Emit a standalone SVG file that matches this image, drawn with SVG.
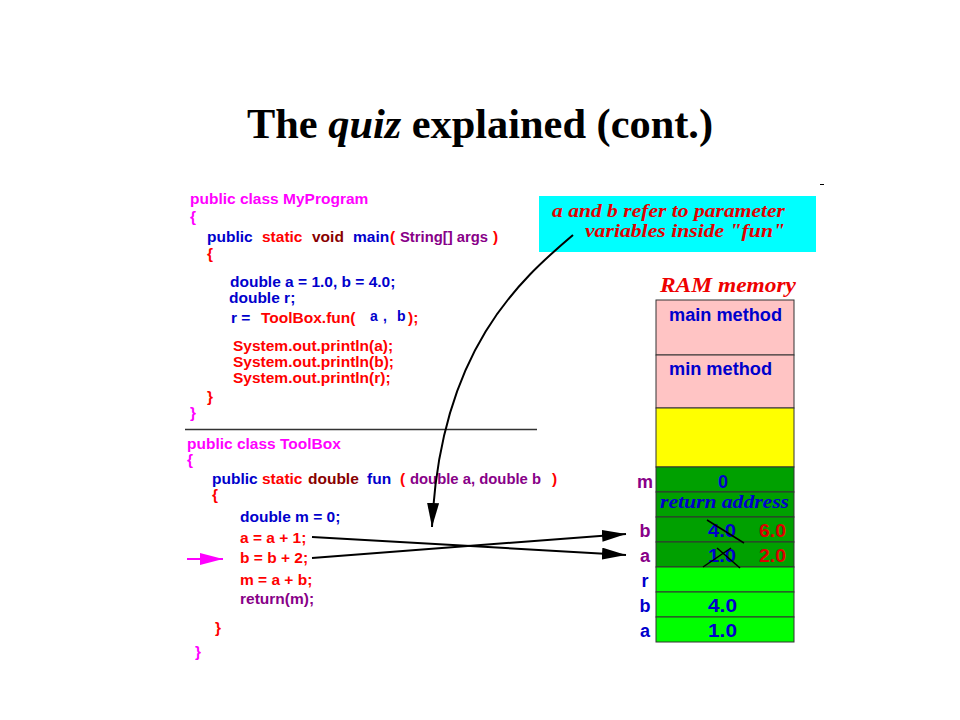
<svg xmlns="http://www.w3.org/2000/svg" width="960" height="720" viewBox="0 0 960 720">
<style>
.code{font-family:"Liberation Sans",Arial,sans-serif;font-weight:bold;font-size:15.5px}
.mg{fill:#ff00ff}.bl{fill:#0000cc}.rd{fill:#ff0000}.mr{fill:#880000}.pu{fill:#880088}
.mem{font-family:"Liberation Sans",Arial,sans-serif;font-weight:bold;font-size:18px}
.serif{font-family:"Liberation Serif","Times New Roman",serif;font-weight:bold;font-style:italic}
.cell{stroke:#333;stroke-width:1}
.conn{fill:none;stroke:#000;stroke-width:2}
</style>
<defs>
<marker id="ah" markerUnits="userSpaceOnUse" markerWidth="24" markerHeight="12" refX="24" refY="6" orient="auto"><path d="M0,0 L24,6 L0,12 z" fill="#000"/></marker>
<marker id="ahm" markerUnits="userSpaceOnUse" markerWidth="23" markerHeight="12" refX="23" refY="6" orient="auto"><path d="M0,0 L23,6 L0,12 z" fill="#ff00ff"/></marker>
</defs>
<rect width="960" height="720" fill="#fff"/>

<g id="title">
<text x="247" y="138" font-family="'Liberation Serif','Times New Roman',serif" font-weight="bold" font-size="42" textLength="466" lengthAdjust="spacingAndGlyphs">The <tspan font-style="italic">quiz</tspan> explained (cont.)</text>
</g>

<g id="myprogram" class="code">
<text x="190" y="204" class="mg">public class MyProgram</text>
<text x="190" y="222" class="mg">{</text>
<text y="242"><tspan x="207" class="bl">public</tspan><tspan x="262" class="rd">static</tspan><tspan x="312" class="mr">void</tspan><tspan x="353" class="bl">main</tspan><tspan x="390" class="rd">(</tspan></text>
<text x="400" y="242" class="pu" textLength="88" lengthAdjust="spacingAndGlyphs">String[] args</text>
<text x="493" y="242" class="rd">)</text>
<text x="207" y="259" class="rd">{</text>
<text x="230" y="287" class="bl">double a = 1.0, b = 4.0;</text>
<text x="229" y="303" class="bl">double r;</text>
<text y="323"><tspan x="231" class="bl">r =</tspan><tspan x="261" class="rd">ToolBox.fun(</tspan></text>
<text y="321" font-size="14"><tspan x="370" class="bl">a</tspan><tspan x="383" class="bl">,</tspan><tspan x="397" class="bl">b</tspan></text>
<text x="408" y="323" class="rd">);</text>
<text x="233" y="351" class="rd">System.out.println(a);</text>
<text x="233" y="367" class="rd">System.out.println(b);</text>
<text x="233" y="383" class="rd">System.out.println(r);</text>
<text x="207" y="402" class="rd">}</text>
<text x="190" y="418" class="mg">}</text>
</g>

<g id="separator">
<line x1="185" y1="429.5" x2="537" y2="429.5" stroke="#333" stroke-width="1.5"/>
</g>

<g id="toolbox" class="code">
<text x="187" y="449" class="mg">public class ToolBox</text>
<text x="187" y="465" class="mg">{</text>
<text y="484"><tspan x="212" class="bl">public</tspan><tspan x="262" class="rd">static</tspan><tspan x="308" class="mr">double</tspan><tspan x="367" class="bl">fun</tspan><tspan x="400" class="rd">(</tspan></text>
<text x="410" y="484" class="pu" textLength="131" lengthAdjust="spacingAndGlyphs">double a, double b</text>
<text x="552" y="484" class="rd">)</text>
<text x="212" y="500" class="rd">{</text>
<text x="240" y="522" class="bl">double m = 0;</text>
<text x="240" y="543" class="rd">a = a + 1;</text>
<text x="240" y="563" class="rd">b = b + 2;</text>
<text x="240" y="585" class="rd">m = a + b;</text>
<text x="240" y="604" class="pu">return(m);</text>
<text x="215" y="633" class="rd">}</text>
<text x="195" y="657" class="mg">}</text>
</g>

<g id="note">
<rect x="539" y="196" width="277" height="56" fill="#00ffff"/>
<text class="serif" x="552" y="217" font-size="19" fill="#e00000" textLength="233" lengthAdjust="spacingAndGlyphs">a and b refer to parameter</text>
<text class="serif" x="585" y="237" font-size="19" fill="#e00000" textLength="200" lengthAdjust="spacingAndGlyphs">variables inside "fun"</text>
</g>

<g id="ram-title">
<text class="serif" x="660" y="292" font-size="21" fill="#ee0000" textLength="136" lengthAdjust="spacingAndGlyphs">RAM memory</text>
</g>

<g id="memory">
<rect class="cell" x="656" y="300" width="138" height="55" fill="#ffc4c4"/>
<rect class="cell" x="656" y="355" width="138" height="53" fill="#ffc4c4"/>
<rect class="cell" x="656" y="408" width="138" height="59" fill="#ffff00"/>
<rect class="cell" x="656" y="467" width="138" height="25" fill="#00a000"/>
<rect class="cell" x="656" y="492" width="138" height="25" fill="#00a000"/>
<rect class="cell" x="656" y="517" width="138" height="25" fill="#00a000"/>
<rect class="cell" x="656" y="542" width="138" height="25" fill="#00a000"/>
<rect class="cell" x="656" y="567" width="138" height="25" fill="#00ff00"/>
<rect class="cell" x="656" y="592" width="138" height="25" fill="#00ff00"/>
<rect class="cell" x="656" y="617" width="138" height="25" fill="#00ff00"/>
<text class="mem bl" x="669" y="321" font-size="17" textLength="113" lengthAdjust="spacingAndGlyphs">main method</text>
<text class="mem bl" x="669" y="375" font-size="17" textLength="103" lengthAdjust="spacingAndGlyphs">min method</text>
<g class="mem" text-anchor="middle">
<text x="645" y="488" class="pu">m</text>
<text x="645" y="537" class="pu">b</text>
<text x="645" y="562" class="pu">a</text>
<text x="645" y="587" class="bl">r</text>
<text x="645" y="612" class="bl">b</text>
<text x="645" y="637" class="bl">a</text>
<text x="723" y="488" class="bl">0</text>
</g>
<text class="serif" x="660" y="508" font-size="19" fill="#0000cc" textLength="129" lengthAdjust="spacingAndGlyphs">return address</text>
<text class="mem bl" x="708" y="537" textLength="28" lengthAdjust="spacingAndGlyphs">4.0</text>
<text class="mem" x="759" y="537" fill="#dd0000" textLength="27" lengthAdjust="spacingAndGlyphs">6.0</text>
<text class="mem bl" x="708" y="562" textLength="28" lengthAdjust="spacingAndGlyphs">1.0</text>
<text class="mem" x="759" y="562" fill="#dd0000" textLength="27" lengthAdjust="spacingAndGlyphs">2.0</text>
<text class="mem bl" x="708" y="612" textLength="29" lengthAdjust="spacingAndGlyphs">4.0</text>
<text class="mem bl" x="708" y="637" textLength="29" lengthAdjust="spacingAndGlyphs">1.0</text>
<line x1="707" y1="520" x2="744" y2="543" stroke="#000" stroke-width="1.5"/>
<line x1="703" y1="567" x2="731" y2="548" stroke="#000" stroke-width="1.5"/>
<line x1="717" y1="548" x2="740" y2="568" stroke="#000" stroke-width="1.5"/>
</g>

<g id="connectors">
<path class="conn" d="M573,235 C520,280 440,350 432,527" marker-end="url(#ah)"/>
<line class="conn" x1="312" y1="537" x2="626" y2="555" marker-end="url(#ah)"/>
<line class="conn" x1="312" y1="558" x2="626" y2="534" marker-end="url(#ah)"/>
<line x1="187" y1="559" x2="223" y2="559" stroke="#ff00ff" stroke-width="2" marker-end="url(#ahm)"/>
</g>

<line x1="820" y1="184.5" x2="824" y2="184.5" stroke="#000" stroke-width="1"/>
</svg>
